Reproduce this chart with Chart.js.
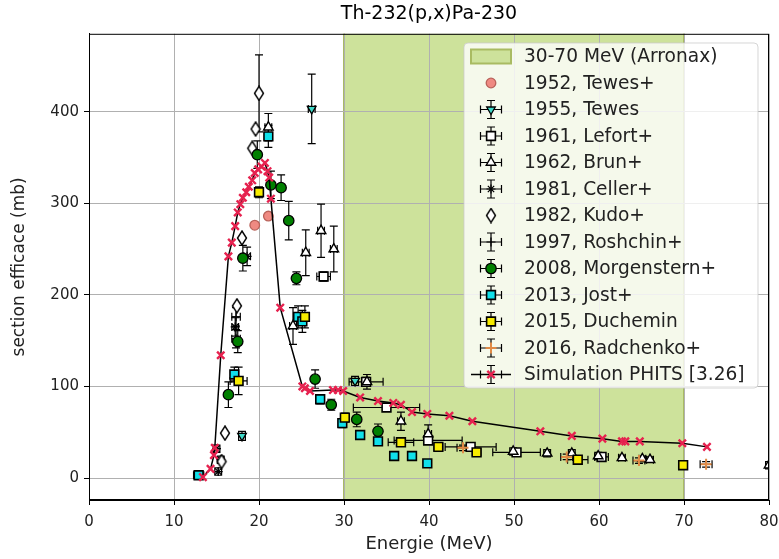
<!DOCTYPE html>
<html>
<head>
<meta charset="utf-8">
<script src="https://cdn.jsdelivr.net/npm/chart.js@4.4.1/dist/chart.umd.min.js"></script>
<style>
  html, body { margin: 0; padding: 0; background: #fff; }
</style>
</head>
<body>
<canvas id="myChart" width="779" height="559"></canvas>
<script>
// axes
const xTicks = [0, 10, 20, 30, 40, 50, 60, 70, 80];
const yTicks = [0, 100, 200, 300, 400];
const bandRange = [30, 70];

// 1952, Tewes+
const tewes52E = [19.5, 21.1];
const tewes52S = [276, 286];

// 1955, Tewes
const tewes55E = [18.0, 26.2, 31.3];
const tewes55S = [46, 403, 106];
const tewes55ErrY = [5, 38, 5];
const tewes55ErrX = [0.4, 0.4, 0.4];

// 1961, Lefort+
const lefortE = [27.6, 32.6, 35.0, 39.9, 44.9, 50.3, 60.3];
const lefortS = [220, 105, 77, 41, 34, 28, 23];
const lefortErrY = [5, 5, 4, 4, 3, 3, 3];
const lefortErrX = [0.8, 2.0, 3.9, 4.0, 3.0, 2.8, 0.8];

// 1962, Brun+
const brunE = [21.1, 24.0, 25.5, 27.3, 28.8, 32.7, 36.7, 39.9, 49.9, 53.9, 56.8, 59.9, 62.7, 65.1, 66.0, 80.0];
const brunS = [383, 166, 246, 270, 250, 105, 62, 48, 29, 27, 27, 24, 22, 21, 20, 14];
const brunErrY = [15, 20, 25, 29, 25, 8, 10, 10, 4, 4, 4, 4, 3, 3, 3, 4];
const brunErrX = [0.4, 0.4, 0.4, 0.4, 0.4, 0.4, 0.4, 0.4, 0.4, 0.4, 0.4, 0.4, 0.4, 0.4, 0.4, 0.4];

// 1981, Celler+
const cellerE = [15.0, 15.5, 15.2, 17.2, 18.6];
const cellerS = [32, 20, 7, 165, 242];
const cellerErrY = [4, 4, 4, 10, 10];
const cellerErrX = [0.4, 0.4, 0.4, 0.4, 0.4];

// 1982, Kudo+
const kudoE = [20.0, 19.6, 19.2, 18.0, 17.4, 16.0, 15.6];
const kudoS = [420, 381, 360, 262, 188, 49, 18];
const kudoErrY = [42, 0, 0, 0, 0, 0, 0];

// 1997, Roshchin+
const roshE = [17.3, 17.3];
const roshS = [176, 152];
const roshErrY = [10, 10];
const roshErrX = [0.5, 0.5];

// 2008, Morgenstern+
const morgE = [16.4, 17.5, 18.1, 19.8, 21.4, 22.6, 23.5, 24.4, 26.6, 28.5, 31.5, 34.0];
const morgS = [91, 149, 240, 353, 320, 317, 281, 218, 108, 80, 64, 51];
const morgErrY = [14, 12, 14, 15, 15, 14, 21, 7, 10, 6, 8, 8];
const morgErrX = [0.3, 0.3, 0.3, 0.3, 0.3, 0.3, 0.3, 0.3, 0.3, 0.3, 0.3, 0.3];

// 2013, Jost+
const jostE = [12.9, 17.1, 21.1, 24.6, 25.1, 27.2, 29.8, 31.9, 34.0, 35.9, 38.0, 39.8];
const jostS = [3, 113, 373, 176, 171, 86, 60, 47, 40, 24, 24, 16];
const jostErrY = [3, 8, 12, 12, 12, 5, 5, 4, 4, 3, 3, 3];
const jostErrX = [0.6, 0.4, 0.4, 0.4, 0.4, 0.4, 0.4, 0.4, 0.4, 0.4, 0.4, 0.4];

// 2015, Duchemin
const duchE = [17.6, 20.0, 25.4, 30.1, 36.7, 41.1, 45.6, 57.5, 69.9];
const duchS = [106, 312, 176, 66, 39, 34, 28, 20, 14];
const duchErrY = [15, 6, 12, 5, 4, 3, 3, 3, 3];
const duchErrX = [1.0, 0.3, 0.5, 0.3, 1.5, 0.5, 0.5, 1.2, 0.3];

// 2016, Radchenko+
const radE = [44.0, 56.2, 64.7, 72.6];
const radS = [33, 23, 19, 15];
const radErrY = [3, 3, 3, 3];
const radErrX = [0.7, 0.7, 0.7, 0.7];

// Simulation PHITS [3.26]
const simE = [13.4, 14.3, 14.7, 14.8, 15.5, 16.4, 16.8, 17.2, 17.5, 17.8, 18.1, 18.5, 18.8, 19.2, 19.5, 19.9,
  20.3, 20.7, 21.0, 21.2, 21.4, 22.5, 25.1, 25.4, 26.0, 28.7, 29.3, 29.9, 31.9, 34.0, 35.8, 36.7, 38.0,
  39.8, 42.4, 45.1, 53.1, 56.8, 60.4, 62.7, 63.1, 64.8, 69.8, 72.7];
const simS = [1, 10, 25, 33, 134, 242, 257, 275, 290, 299, 306, 312, 318, 325, 333, 337,
  340, 344, 335, 328, 305, 186, 100, 98, 95, 96, 96, 95, 88, 84, 82, 80, 72,
  70, 68, 62, 51, 46, 43, 40, 40, 40, 38, 34];

const FONT = 'DejaVu Sans';
const bandFill = '#cde29b';
const bandEdge = '#a9bb62';

const pts = (xs, ys) => xs.map((x, i) => ({ x: x, y: ys[i] }));

// thin diamond marker (matplotlib 'd')
const thinDiamond = document.createElement('canvas');
thinDiamond.width = 12; thinDiamond.height = 16;
(function () {
  const c = thinDiamond.getContext('2d');
  c.beginPath();
  c.moveTo(6, 1); c.lineTo(10.5, 8); c.lineTo(6, 15); c.lineTo(1.5, 8); c.closePath();
  c.fillStyle = '#fff'; c.fill();
  c.lineWidth = 1.4; c.strokeStyle = '#000'; c.stroke();
})();

function series(label, xs, ys, style, errY, errX) {
  return Object.assign({
    label: label,
    data: pts(xs, ys),
    showLine: false,
    errY: errY,
    errX: errX,
    pointBorderColor: '#000',
    pointBorderWidth: 1.3,
    pointRadius: 5
  }, style);
}

const datasets = [
  series('1952, Tewes+', tewes52E, tewes52S,
    { pointStyle: 'circle', pointBackgroundColor: '#ef8a82', pointBorderColor: '#b9625a', pointRadius: 4.8 }),
  series('1955, Tewes', tewes55E, tewes55S,
    { pointStyle: 'triangle', pointRotation: 180, pointBackgroundColor: '#3fd9c8', pointRadius: 5 },
    tewes55ErrY, tewes55ErrX),
  series('1961, Lefort+', lefortE, lefortS,
    { pointStyle: 'rect', pointBackgroundColor: '#fff', pointRadius: 6.2, pointBorderWidth: 1.6 },
    lefortErrY, lefortErrX),
  series('1962, Brun+', brunE, brunS,
    { pointStyle: 'triangle', pointBackgroundColor: '#fff', pointRadius: 5.5, pointBorderWidth: 1.4 },
    brunErrY, brunErrX),
  series('1981, Celler+', cellerE, cellerS,
    { pointStyle: 'star', pointBackgroundColor: '#000', pointRadius: 4.5, pointBorderWidth: 1.2 },
    cellerErrY, cellerErrX),
  series('1982, Kudo+', kudoE, kudoS,
    { pointStyle: thinDiamond, pointRadius: 6 },
    kudoErrY, null),
  series('1997, Roshchin+', roshE, roshS,
    { pointStyle: 'cross', pointRadius: 4.5, pointBorderWidth: 1.2 },
    roshErrY, roshErrX),
  series('2008, Morgenstern+', morgE, morgS,
    { pointStyle: 'circle', pointBackgroundColor: '#008000', pointRadius: 5.2, pointBorderWidth: 1.3 },
    morgErrY, morgErrX),
  series('2013, Jost+', jostE, jostS,
    { pointStyle: 'rect', pointBackgroundColor: '#10e0ea', pointRadius: 6.2, pointBorderWidth: 1.6 },
    jostErrY, jostErrX),
  series('2015, Duchemin', duchE, duchS,
    { pointStyle: 'rect', pointBackgroundColor: '#f7ec00', pointRadius: 6.2, pointBorderWidth: 1.6 },
    duchErrY, duchErrX),
  series('2016, Radchenko+', radE, radS,
    { pointStyle: 'cross', pointBorderColor: '#e08a45', pointRadius: 5.5, pointBorderWidth: 2 },
    radErrY, radErrX),
  {
    label: 'Simulation PHITS [3.26]',
    data: pts(simE, simS),
    showLine: true,
    borderColor: '#000',
    borderWidth: 1.5,
    pointStyle: 'crossRot',
    pointBorderColor: '#e6224f',
    pointBorderWidth: 2.4,
    pointRadius: 5.2,
    legendLine: true
  }
];
// later series drawn on top, like the original
datasets.forEach((d, i) => { d.order = datasets.length - i; });

// green energy band, under the grid
const bandPlugin = {
  id: 'band',
  beforeDraw(chart) {
    const { ctx, chartArea, scales } = chart;
    const x1 = scales.x.getPixelForValue(bandRange[0]);
    const x2 = scales.x.getPixelForValue(bandRange[1]);
    ctx.save();
    ctx.fillStyle = bandFill;
    ctx.fillRect(x1, chartArea.top, x2 - x1, chartArea.bottom - chartArea.top);
    ctx.strokeStyle = bandEdge;
    ctx.lineWidth = 2;
    ctx.beginPath();
    ctx.moveTo(x1, chartArea.top); ctx.lineTo(x1, chartArea.bottom);
    ctx.moveTo(x2, chartArea.top); ctx.lineTo(x2, chartArea.bottom);
    ctx.stroke();
    ctx.restore();
  }
};

function capBar(ctx, x1, y1, x2, y2, cap, vertical) {
  ctx.moveTo(x1, y1); ctx.lineTo(x2, y2);
  if (vertical) {
    ctx.moveTo(x1 - cap, y1); ctx.lineTo(x1 + cap, y1);
    ctx.moveTo(x2 - cap, y2); ctx.lineTo(x2 + cap, y2);
  } else {
    ctx.moveTo(x1, y1 - cap); ctx.lineTo(x1, y1 + cap);
    ctx.moveTo(x2, y2 - cap); ctx.lineTo(x2, y2 + cap);
  }
}

const errorBars = {
  id: 'errorBars',
  beforeDatasetsDraw(chart) {
    const { ctx, chartArea, scales: { x, y } } = chart;
    ctx.save();
    ctx.beginPath();
    ctx.rect(chartArea.left, chartArea.top, chartArea.right - chartArea.left, chartArea.bottom - chartArea.top);
    ctx.clip();
    ctx.strokeStyle = '#000';
    ctx.lineWidth = 1.2;
    chart.data.datasets.forEach(ds => {
      if (!ds.errY && !ds.errX) return;
      ds.data.forEach((p, i) => {
        const px = x.getPixelForValue(p.x), py = y.getPixelForValue(p.y);
        ctx.beginPath();
        const ey = ds.errY ? ds.errY[i] : 0;
        const ex = ds.errX ? ds.errX[i] : 0;
        if (ey > 0) capBar(ctx, px, y.getPixelForValue(p.y - ey), px, y.getPixelForValue(p.y + ey), 4, true);
        if (ex > 0) capBar(ctx, x.getPixelForValue(p.x - ex), py, x.getPixelForValue(p.x + ex), py, 4, false);
        ctx.stroke();
      });
    });
    ctx.restore();
  }
};

// box around the plot + legend in the upper right
const frameAndLegend = {
  id: 'frameAndLegend',
  afterDraw(chart) {
    const { ctx, chartArea } = chart;
    ctx.save();
    ctx.strokeStyle = '#000';
    ctx.lineWidth = 1;
    ctx.strokeRect(chartArea.left + 0.5, chartArea.top + 0.5,
      chartArea.right - chartArea.left - 1, chartArea.bottom - chartArea.top - 1);

    const bx = 464, by = 43, bw = 294, bh = 345;
    ctx.beginPath();
    ctx.roundRect(bx, by, bw, bh, 4);
    ctx.fillStyle = 'rgba(255,255,255,0.8)';
    ctx.fill();
    ctx.strokeStyle = 'rgba(204,204,204,0.8)';
    ctx.lineWidth = 1;
    ctx.stroke();

    const mx = 491, tx = 524, y0 = 56.5, dy = 26.5;
    ctx.font = '18.6px "' + FONT + '"';
    ctx.textBaseline = 'middle';
    ctx.textAlign = 'left';

    // band entry
    ctx.fillStyle = bandFill;
    ctx.fillRect(471, y0 - 7, 40, 14);
    ctx.strokeStyle = bandEdge;
    ctx.lineWidth = 2;
    ctx.strokeRect(471, y0 - 7, 40, 14);
    ctx.fillStyle = '#222';
    ctx.fillText('30-70 MeV (Arronax)', tx, y0 + 1);

    chart.data.datasets.forEach((ds, i) => {
      const cy = y0 + dy * (i + 1);
      ctx.strokeStyle = '#000';
      ctx.lineWidth = 1.2;
      if (ds.legendLine) {
        ctx.beginPath();
        ctx.moveTo(471, cy); ctx.lineTo(511, cy);
        ctx.lineWidth = 1.5;
        ctx.stroke();
        ctx.lineWidth = 1.2;
      }
      if (ds.errX || ds.legendLine) {
        ctx.beginPath();
        capBar(ctx, mx - 10.5, cy, mx + 10.5, cy, 4, false);
        capBar(ctx, mx, cy - 9, mx, cy + 9, 4, true);
        ctx.stroke();
      }
      if (ds.pointStyle instanceof HTMLCanvasElement) {
        ctx.drawImage(ds.pointStyle, mx - 6, cy - 8);
      } else {
        ctx.fillStyle = ds.pointBackgroundColor || '#000';
        ctx.strokeStyle = ds.pointBorderColor;
        ctx.lineWidth = ds.pointBorderWidth;
        Chart.helpers.drawPoint(ctx, {
          pointStyle: ds.pointStyle,
          rotation: ds.pointRotation || 0,
          radius: ds.pointRadius,
          borderWidth: ds.pointBorderWidth
        }, mx, cy);
      }
      ctx.fillStyle = '#222';
      ctx.fillText(ds.label, tx, cy + 1);
    });
    ctx.restore();
  }
};

new Chart(document.getElementById('myChart'), {
  type: 'scatter',
  data: { datasets: datasets },
  plugins: [bandPlugin, errorBars, frameAndLegend],
  options: {
    responsive: false,
    animation: false,
    events: [],
    layout: { padding: { left: 0, right: 10, top: 0, bottom: 0 } },
    plugins: {
      legend: { display: false },
      tooltip: { enabled: false },
      title: {
        display: true,
        text: 'Th-232(p,x)Pa-230',
        fullSize: false,
        color: '#000',
        font: { family: FONT, size: 19, weight: 'normal' },
        padding: { top: 3, bottom: 8 }
      }
    },
    scales: {
      x: {
        type: 'linear',
        min: 0,
        max: 80,
        afterBuildTicks: s => { s.ticks = xTicks.map(v => ({ value: v })); },
        afterFit: s => { s.height = 59; s.paddingLeft = 0; s.paddingRight = 0; },
        ticks: { color: '#222', padding: 8, font: { family: FONT, size: 15 } },
        grid: { color: '#b0b0b0', tickColor: '#000', tickLength: 5 },
        border: { color: '#000' },
        title: {
          display: true,
          text: 'Energie (MeV)',
          color: '#222',
          font: { family: FONT, size: 18 },
          padding: { top: 0, bottom: 4 }
        }
      },
      y: {
        type: 'linear',
        min: -24,
        max: 485,
        afterBuildTicks: s => { s.ticks = yTicks.map(v => ({ value: v })); },
        afterFit: s => { s.width = 89; },
        ticks: { color: '#222', padding: 5, font: { family: FONT, size: 15 } },
        grid: { color: '#b0b0b0', tickColor: '#000', tickLength: 5 },
        border: { color: '#000' },
        title: {
          display: true,
          text: 'section efficace (mb)',
          color: '#222',
          font: { family: FONT, size: 17 },
          padding: { top: 9, bottom: 0 }
        }
      }
    }
  }
});
</script>
</body>
</html>
